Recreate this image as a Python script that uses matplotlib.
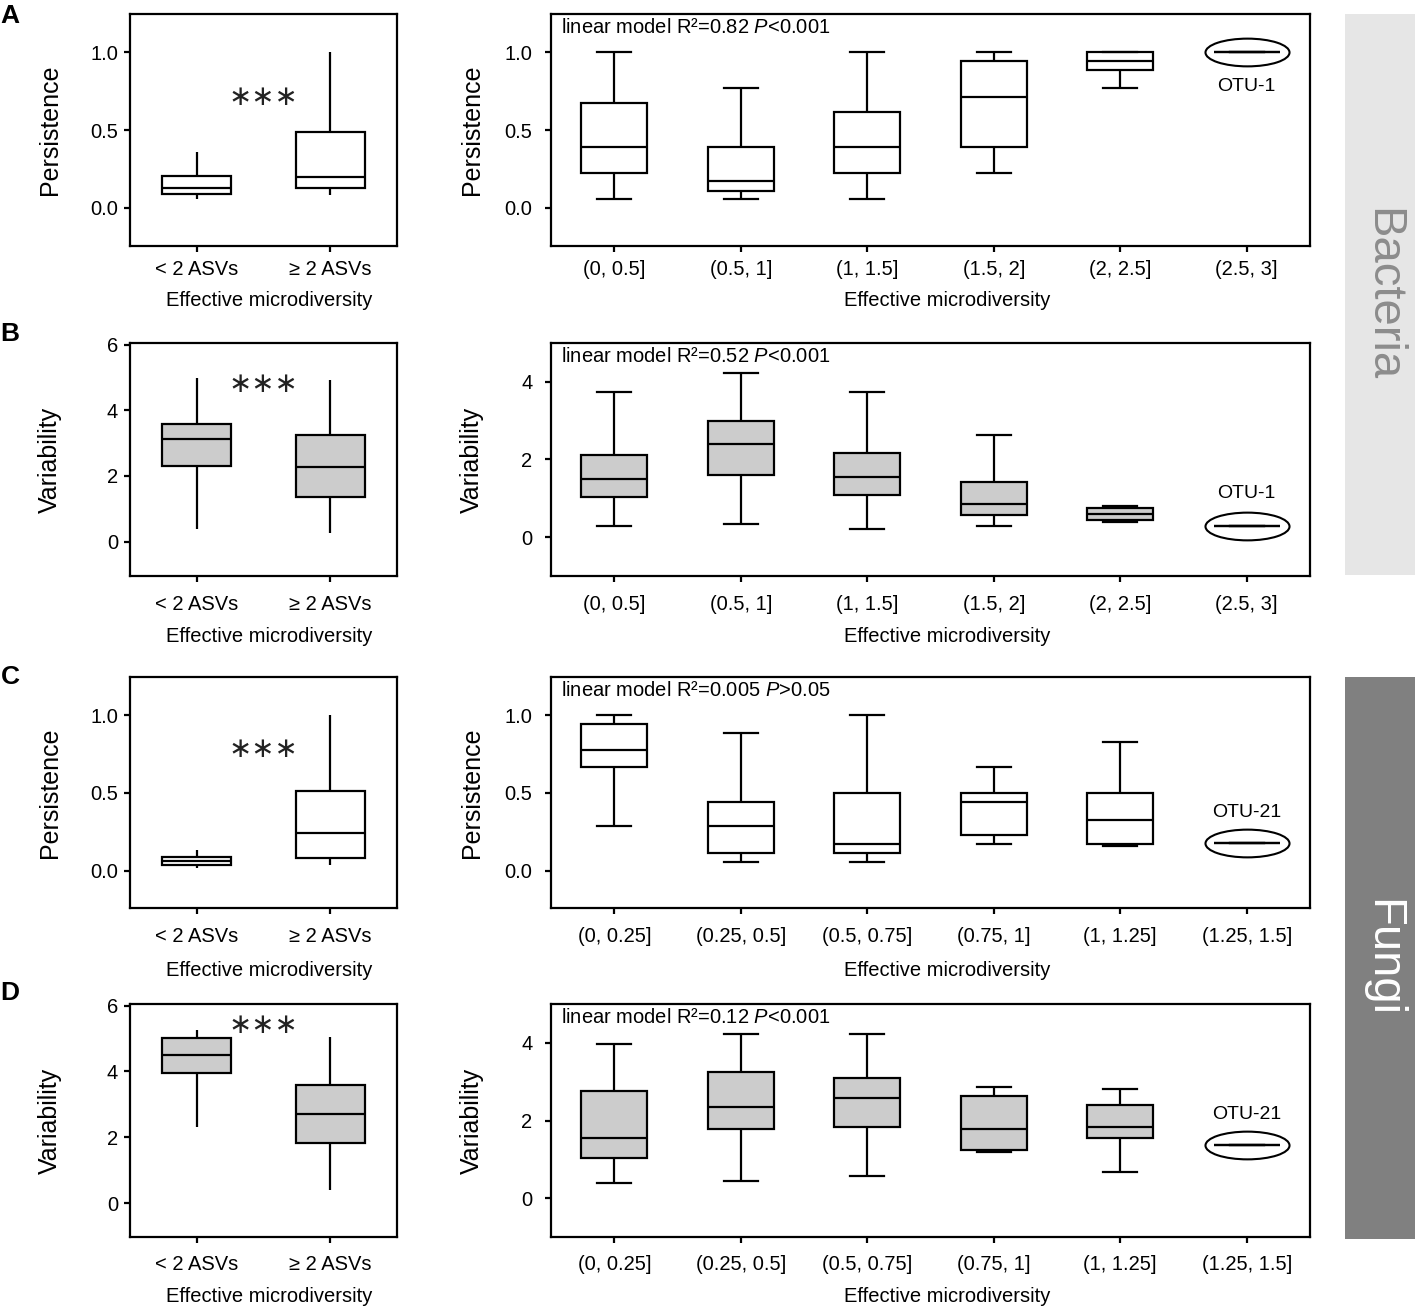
import matplotlib
matplotlib.use("Agg")
import matplotlib.pyplot as plt
from matplotlib.path import Path
from matplotlib.transforms import Affine2D
from matplotlib.patches import Rectangle

plt.rcParams['font.family'] = ['Liberation Sans', 'DejaVu Sans']
plt.rcParams['mathtext.fontset'] = 'custom'
plt.rcParams['mathtext.rm'] = 'Liberation Sans'
plt.rcParams['mathtext.it'] = 'Liberation Sans:italic'
plt.rcParams['mathtext.bf'] = 'Liberation Sans:bold'

# ---------------- data ----------------
asv_groups = ["< 2 ASVs", "\u2265 2 ASVs"]
bact_bins = ["(0, 0.5]", "(0.5, 1]", "(1, 1.5]", "(1.5, 2]", "(2, 2.5]", "(2.5, 3]"]
fungi_bins = ["(0, 0.25]", "(0.25, 0.5]", "(0.5, 0.75]", "(0.75, 1]", "(1, 1.25]", "(1.25, 1.5]"]

# Panel A (bacteria persistence)
A_grp_lo = [0.054, 0.081]
A_grp_q1 = [0.086, 0.128]
A_grp_med = [0.128, 0.199]
A_grp_q3 = [0.203, 0.487]
A_grp_hi = [0.36, 1.0]
A_bin_lo = [0.058, 0.058, 0.058, 0.227, 0.772, 1.0]
A_bin_q1 = [0.227, 0.111, 0.227, 0.389, 0.887, 1.0]
A_bin_med = [0.389, 0.173, 0.389, 0.712, 0.942, 1.0]
A_bin_q3 = [0.671, 0.389, 0.615, 0.942, 1.0, 1.0]
A_bin_hi = [1.0, 0.772, 1.0, 1.0, 1.0, 1.0]

# Panel B (bacteria variability)
B_grp_lo = [0.38, 0.26]
B_grp_q1 = [2.31, 1.35]
B_grp_med = [3.13, 2.26]
B_grp_q3 = [3.59, 3.25]
B_grp_hi = [4.98, 4.91]
B_bin_lo = [0.28, 0.34, 0.22, 0.28, 0.39, 0.29]
B_bin_q1 = [1.03, 1.60, 1.09, 0.57, 0.445, 0.29]
B_bin_med = [1.49, 2.40, 1.55, 0.86, 0.59, 0.29]
B_bin_q3 = [2.12, 2.98, 2.17, 1.43, 0.745, 0.29]
B_bin_hi = [3.73, 4.24, 3.73, 2.63, 0.80, 0.29]

# Panel C (fungi persistence)
C_grp_lo = [0.017, 0.034]
C_grp_q1 = [0.038, 0.081]
C_grp_med = [0.062, 0.244]
C_grp_q3 = [0.085, 0.51]
C_grp_hi = [0.13, 1.0]
C_bin_lo = [0.287, 0.056, 0.056, 0.171, 0.158, 0.18]
C_bin_q1 = [0.669, 0.113, 0.113, 0.229, 0.171, 0.18]
C_bin_med = [0.774, 0.288, 0.173, 0.442, 0.325, 0.18]
C_bin_q3 = [0.944, 0.442, 0.50, 0.498, 0.498, 0.18]
C_bin_hi = [1.0, 0.887, 1.0, 0.669, 0.829, 0.18]

# Panel D (fungi variability)
D_grp_lo = [2.30, 0.39]
D_grp_q1 = [3.94, 1.84]
D_grp_med = [4.49, 2.72]
D_grp_q3 = [5.03, 3.59]
D_grp_hi = [5.26, 5.05]
D_bin_lo = [0.40, 0.45, 0.57, 1.20, 0.68, 1.36]
D_bin_q1 = [1.03, 1.78, 1.84, 1.24, 1.55, 1.36]
D_bin_med = [1.55, 2.34, 2.57, 1.78, 1.84, 1.36]
D_bin_q3 = [2.76, 3.26, 3.09, 2.63, 2.40, 1.36]
D_bin_hi = [3.96, 4.24, 4.24, 2.85, 2.80, 1.36]

model_texts = ["linear model R\u00b2=0.82 $P$<0.001",
               "linear model R\u00b2=0.52 $P$<0.001",
               "linear model R\u00b2=0.005 $P$>0.05",
               "linear model R\u00b2=0.12 $P$<0.001"]
single_otu = ["OTU-1", "OTU-1", "OTU-21", "OTU-21"]
signif = "\u2217\u2217\u2217"
signif_y = [0.71, 4.79, 0.785, 5.40]
panel_letters = ["A", "B", "C", "D"]
ylabels = ["Persistence", "Variability", "Persistence", "Variability"]
xlabel = "Effective microdiversity"

# ---------------- styling / layout ----------------
W, H = 1418, 1312
LW = 1.6
fig = plt.figure(figsize=(W / 100, H / 100), dpi=100)

rows_px = [(14, 246), (343, 576), (677, 908), (1004, 1237)]
left_x = (130, 397)
right_x = (551, 1310)

def add_ax(x0, x1, y0, y1):
    return fig.add_axes([x0 / W, 1 - y1 / H, (x1 - x0) / W, (y1 - y0) / H])

def boxes(ax, lo, q1, med, q3, hi, fill, caps):
    stats = [dict(whislo=a, q1=b, med=c, q3=d, whishi=e, fliers=[])
             for a, b, c, d, e in zip(lo, q1, med, q3, hi)]
    pos = list(range(len(stats)))
    ax.bxp(stats, positions=pos, widths=0.52, patch_artist=True,
           showfliers=False, showcaps=caps, capwidths=0.27,
           boxprops=dict(facecolor=fill, edgecolor='black', linewidth=LW),
           whiskerprops=dict(color='black', linewidth=LW, solid_capstyle='butt'),
           capprops=dict(color='black', linewidth=LW),
           medianprops=dict(color='black', linewidth=LW, solid_capstyle='butt'),
           manage_ticks=False)
    return pos

def style(ax, cats, ylim, yticks, yfmt, ypad, xpad, xlab_y, xlab_x, ylab, ylab_x):
    ax.set_xlim(-0.5, len(cats) - 0.5)
    ax.set_ylim(*ylim)
    ax.set_xticks(range(len(cats)))
    ax.set_xticklabels(cats)
    ax.set_yticks(yticks)
    ax.set_yticklabels([yfmt.format(v) for v in yticks])
    for s in ax.spines.values():
        s.set_linewidth(LW)
    ax.tick_params(axis='x', direction='out', length=4.3, width=LW, pad=xpad, labelsize=14.5)
    ax.tick_params(axis='y', direction='out', length=4.3, width=LW, pad=ypad, labelsize=14.5)
    ax.set_xlabel(xlabel, fontsize=14.5, va='center')
    ax.xaxis.set_label_coords(xlab_x, xlab_y)
    ax.set_ylabel(ylab, fontsize=18, va='center')
    ax.yaxis.set_label_coords(ylab_x, 0.5)

ell_path = Path.unit_circle().transformed(Affine2D().scale(1.0, 0.33))

panels = [
    (A_grp_lo, A_grp_q1, A_grp_med, A_grp_q3, A_grp_hi,
     A_bin_lo, A_bin_q1, A_bin_med, A_bin_q3, A_bin_hi, bact_bins,
     'white', (-0.245, 1.245), [0.0, 0.5, 1.0], "{:.1f}", (-0.245, 1.245), [0.0, 0.5, 1.0], -25),
    (B_grp_lo, B_grp_q1, B_grp_med, B_grp_q3, B_grp_hi,
     B_bin_lo, B_bin_q1, B_bin_med, B_bin_q3, B_bin_hi, bact_bins,
     '#cccccc', (-1.05, 6.05), [0, 2, 4, 6], "{:d}", (-1.0, 5.0), [0, 2, 4], 23),
    (C_grp_lo, C_grp_q1, C_grp_med, C_grp_q3, C_grp_hi,
     C_bin_lo, C_bin_q1, C_bin_med, C_bin_q3, C_bin_hi, fungi_bins,
     'white', (-0.24, 1.245), [0.0, 0.5, 1.0], "{:.1f}", (-0.24, 1.245), [0.0, 0.5, 1.0], 22),
    (D_grp_lo, D_grp_q1, D_grp_med, D_grp_q3, D_grp_hi,
     D_bin_lo, D_bin_q1, D_bin_med, D_bin_q3, D_bin_hi, fungi_bins,
     '#cccccc', (-1.03, 6.05), [0, 2, 4, 6], "{:d}", (-1.0, 5.0), [0, 2, 4], 22),
]

xpads = [6.0, 9.5, 9.5, 9.0]
xlab_off = [54.7, 60.7, 62.0, 59.7]
letter_y = [16, 334, 677, 993]

for i, p in enumerate(panels):
    (glo, gq1, gmed, gq3, ghi, blo, bq1, bmed, bq3, bhi, bins,
     fill, ylim_l, yt_l, yfmt, ylim_r, yt_r, otu_off) = p
    y0, y1 = rows_px[i]
    hpx = y1 - y0

    # left: two groups
    axl = add_ax(left_x[0], left_x[1], y0, y1)
    boxes(axl, glo, gq1, gmed, gq3, ghi, fill, caps=False)
    style(axl, asv_groups, ylim_l, yt_l, yfmt, 4.3, xpads[i],
          -xlab_off[i] / hpx, 0.52, ylabels[i], -80 / (left_x[1] - left_x[0]))
    axl.text(0.5, signif_y[i], signif, ha='center', va='center', fontsize=20,
             family=['DejaVu Sans'], color='#222222')

    # right: microdiversity bins
    axr = add_ax(right_x[0], right_x[1], y0, y1)
    pos = boxes(axr, blo, bq1, bmed, bq3, bhi, fill, caps=True)
    style(axr, bins, ylim_r, yt_r, yfmt, 9.0, xpads[i],
          -xlab_off[i] / hpx, 0.522, ylabels[i], -79 / (right_x[1] - right_x[0]))
    for k in pos:
        if blo[k] == bhi[k]:
            axr.plot([k], [bmed[k]], marker=ell_path, markersize=60.5,
                     mfc='none', mec='black', mew=1.5, linestyle='none')
            axr.annotate(single_otu[i], xy=(k, bmed[k]), xytext=(0, otu_off),
                         textcoords='offset points', ha='center', va='center',
                         fontsize=14)
    axr.text(0.0128, 0.94, model_texts[i], transform=axr.transAxes,
             ha='left', va='center', fontsize=14.5)

    fig.text(10 / W, 1 - letter_y[i] / H, panel_letters[i], fontsize=19,
             fontweight='bold', ha='center', va='center')

# side bands
fig.add_artist(Rectangle((1345 / W, 1 - 575 / H), 70 / W, 561 / H,
                         transform=fig.transFigure, facecolor='#e6e6e6', edgecolor='none'))
fig.add_artist(Rectangle((1345 / W, 1 - 1239 / H), 70 / W, 562 / H,
                         transform=fig.transFigure, facecolor='#808080', edgecolor='none'))
fig.text(1382 / W, 1 - 294.5 / H, "Bacteria", rotation=-90, ha='center', va='center',
         fontsize=34, color='#8c8c8c')
fig.text(1382 / W, 1 - 958 / H, "Fungi", rotation=-90, ha='center', va='center',
         fontsize=34, color='white')

fig.savefig("out.png", dpi=100)
